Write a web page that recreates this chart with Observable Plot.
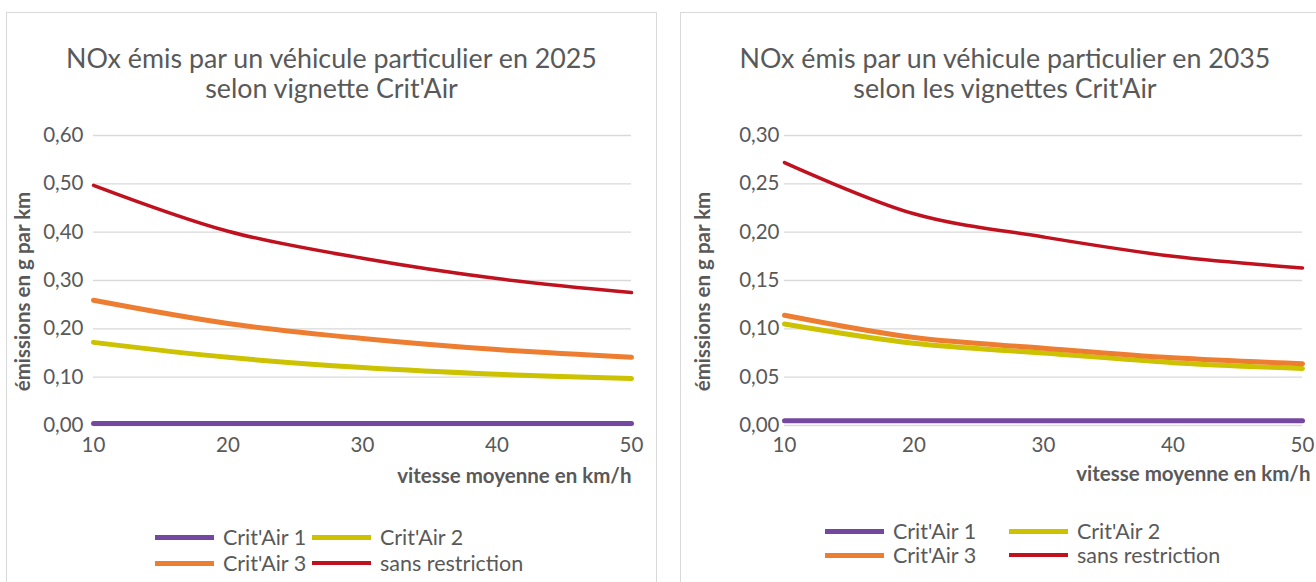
<!DOCTYPE html>
<html><head><meta charset="utf-8">
<script src="https://cdn.jsdelivr.net/npm/d3@7"></script>
<script src="https://cdn.jsdelivr.net/npm/@observablehq/plot@0.6"></script>
<style>
body{margin:0;background:#fff;font-family:Lato,sans-serif;color:#595959;}
#page{position:relative;width:1316px;height:582px;overflow:hidden;background:#fff}
.panel{position:absolute;border:1px solid #d9d9d9;box-sizing:border-box;}
.title{position:absolute;text-align:center;font-size:26.8px;line-height:30px;white-space:nowrap}
.chart{position:absolute;top:0}
.item{position:absolute;white-space:nowrap;font-size:21.5px;line-height:24px;height:24px}
.sw{position:absolute;top:50%;width:59px;}
.lt{position:absolute;left:68px;top:0}
</style></head><body><div id="page"></div>
<script>
const speeds = [10, 20, 30, 40, 50];
const seriesNames = ["Crit'Air 1", "Crit'Air 2", "Crit'Air 3", "sans restriction"];
const seriesColors = ["#7448a0", "#ccc200", "#ed7d31", "#c0111f"];

const nox2025_critair1 = [0.004, 0.004, 0.004, 0.004, 0.004];
const nox2025_critair2 = [0.172, 0.141, 0.120, 0.106, 0.097];
const nox2025_critair3 = [0.259, 0.211, 0.180, 0.157, 0.141];
const nox2025_sans = [0.497, 0.402, 0.346, 0.304, 0.275];

const nox2035_critair1 = [0.005, 0.005, 0.005, 0.005, 0.005];
const nox2035_critair2 = [0.105, 0.085, 0.075, 0.065, 0.059];
const nox2035_critair3 = [0.114, 0.091, 0.080, 0.070, 0.064];
const nox2035_sans = [0.272, 0.219, 0.195, 0.175, 0.163];

const yTicks2025 = [0, 0.1, 0.2, 0.3, 0.4, 0.5, 0.6];
const yTicks2035 = [0, 0.05, 0.1, 0.15, 0.2, 0.25, 0.3];
const xTicks = [10, 20, 30, 40, 50];

const title2025 = ["NOx émis par un véhicule particulier en 2025", "selon vignette Crit'Air"];
const title2035 = ["NOx émis par un véhicule particulier en 2035", "selon les vignettes Crit'Air"];
const xLabel = "vitesse moyenne en km/h";
const yLabel = "émissions en g par km";

function toRows(arrays) {
  const rows = [];
  arrays.forEach((arr, i) => arr.forEach((v, j) => rows.push({series: seriesNames[i], speed: speeds[j], value: v})));
  return rows;
}

const page = document.getElementById("page");

function panel(cfg) {
  const p = document.createElement("div");
  p.className = "panel";
  Object.assign(p.style, {left: cfg.box[0] + "px", top: cfg.box[1] + "px", width: cfg.box[2] + "px", height: cfg.box[3] + "px"});
  page.appendChild(p);

  const rows = toRows(cfg.arrays);
  const widths = [5, 5, 5, 3.5];
  const chart = Plot.plot({
    width: cfg.svgWidth,
    height: 500,
    marginLeft: cfg.mLeft,
    marginRight: cfg.mRight,
    marginTop: 135,
    marginBottom: 75,
    style: {fontFamily: "Lato, sans-serif", color: "#595959", background: "transparent", overflow: "visible"},
    x: {domain: [10, 50]},
    y: {domain: cfg.yDomain},
    color: {domain: seriesNames, range: seriesColors},
    marks: [
      Plot.gridY(cfg.yTicks, {stroke: "#d9d9d9", strokeOpacity: 1, strokeWidth: 1.3}),
      Plot.axisY(cfg.yTicks, {tickSize: 0, tickPadding: cfg.tickPad, fontSize: 20.5, label: null,
        tickFormat: d => d.toFixed(2).replace(".", ",")}),
      Plot.axisX(xTicks, {tickSize: 0, tickPadding: 12, fontSize: 20.5, label: null}),
      ...seriesNames.map((s, i) => Plot.line(rows.filter(r => r.series === s),
        {x: "speed", y: "value", stroke: "series", strokeWidth: widths[i], curve: "catmull-rom"})),
      Plot.text([xLabel], {frameAnchor: "bottom-right", dx: cfg.xLabDx, dy: cfg.xLabDy, textAnchor: "end",
        fontWeight: "bold", fontSize: 20.5, fill: "#595959"}),
      Plot.text([yLabel], {frameAnchor: "left", dx: -cfg.yLabOff, dy: 11, rotate: -90, textAnchor: "middle",
        fontWeight: "bold", fontSize: 20.5, fill: "#595959"})
    ]
  });
  chart.classList.add("chart");
  chart.style.left = cfg.svgLeft + "px";
  page.appendChild(chart);

  const t = document.createElement("div");
  t.className = "title";
  t.style.left = cfg.box[0] + "px";
  t.style.width = cfg.box[2] + "px";
  t.style.top = "43px";
  t.innerHTML = cfg.title.map(s => "<div>" + s + "</div>").join("");
  page.appendChild(t);

  seriesNames.forEach((s, i) => {
    const it = document.createElement("div");
    it.className = "item";
    it.style.left = (i % 2 === 0 ? cfg.legX[0] : cfg.legX[1]) + "px";
    it.style.top = (i < 2 ? cfg.legY[0] : cfg.legY[1]) - 12 + "px";
    const sw = document.createElement("div");
    sw.className = "sw";
    sw.style.height = widths[i] + "px";
    sw.style.marginTop = (-widths[i] / 2) + "px";
    sw.style.background = seriesColors[i];
    const lt = document.createElement("span");
    lt.className = "lt";
    lt.textContent = s;
    it.appendChild(sw); it.appendChild(lt);
    page.appendChild(it);
  });
}

panel({
  box: [6, 12, 651, 600], svgLeft: 0, svgWidth: 657, mLeft: 93, mRight: 26, tickPad: 10,
  yDomain: [0, 0.6], yTicks: yTicks2025, yLabOff: 70, xLabDx: 0, xLabDy: 57,
  arrays: [nox2025_critair1, nox2025_critair2, nox2025_critair3, nox2025_sans],
  title: title2025, legX: [155, 312], legY: [537, 563]
});
panel({
  box: [680, 12, 650, 600], svgLeft: 680, svgWidth: 636, mLeft: 104, mRight: 14, tickPad: 5,
  yDomain: [0, 0.3], yTicks: yTicks2035, yLabOff: 81, xLabDx: 8, xLabDy: 55,
  arrays: [nox2035_critair1, nox2035_critair2, nox2035_critair3, nox2035_sans],
  title: title2035, legX: [825, 1009], legY: [531, 555]
});
</script></body></html>
